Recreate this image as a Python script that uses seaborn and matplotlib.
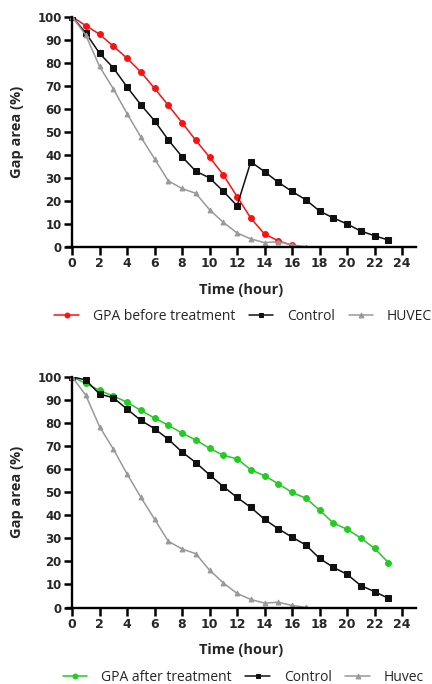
import matplotlib
matplotlib.use('Agg')
import matplotlib.pyplot as plt
import seaborn as sns
import numpy as np

# data (gap area % per hour)
hours_gpa_before = list(range(0, 17))
gpa_before = [100, 96.1, 92.4, 87.2, 82.0, 76.0, 68.9, 61.5, 54.0, 46.3, 39.0, 31.3,
              21.9, 12.5, 5.6, 2.7, 0.7]

hours_control = list(range(0, 24))
control_top = [100, 92.9, 84.1, 77.8, 69.5, 61.8, 54.8, 46.5, 39.2, 32.9, 30.0, 24.2,
               17.9, 37.0, 32.7, 28.1, 24.1, 20.5, 15.6, 12.6, 10.0, 6.9, 4.9, 3.0]

hours_huvec = list(range(0, 18))
huvec = [100, 92.0, 78.4, 68.7, 57.9, 47.8, 38.3, 28.7, 25.4, 23.3, 16.2, 10.7,
         6.1, 3.5, 1.9, 2.3, 0.9, 0.1]

hours_gpa_after = list(range(0, 24))
gpa_after = [100, 97.1, 94.1, 91.6, 89.0, 85.4, 82.1, 79.0, 75.6, 72.6, 69.0, 66.0,
             64.4, 59.7, 57.1, 53.6, 49.9, 47.4, 42.2, 36.6, 33.9, 30.1, 25.6, 19.5]

control_bottom = [100, 98.6, 92.5, 90.9, 86.0, 81.1, 77.5, 72.9, 67.4, 62.8, 57.5, 52.4,
                  47.7, 43.4, 38.2, 34.1, 30.5, 27.1, 21.3, 17.4, 14.4, 9.5, 6.9, 4.0]

x_ticks = list(range(0, 25, 2))
y_ticks = list(range(0, 101, 10))

sns.set_style('ticks')
plt.rcParams['font.family'] = ['DejaVu Sans']

fig = plt.figure(figsize=(4.32, 6.84), dpi=100)
ax_top = fig.add_axes([0.1556, 0.6389, 0.807, 0.3367])
ax_bot = fig.add_axes([0.1556, 0.1118, 0.807, 0.3374])

RED = '#ff1010'
GREEN = '#22cc22'
GREY = '#999999'
BLACK = '#111111'


def draw(ax, series):
    for x, y, color, marker, ms, label in series:
        sns.lineplot(x=x, y=y, ax=ax, color=color, marker=marker, markersize=ms,
                     markeredgecolor=color, linewidth=1.1, label=label)
    ax.set_xlim(-0.35, 25)
    ax.set_ylim(0, 100)
    ax.spines['left'].set_position(('data', 0))
    ax.spines['left'].set_bounds(0, 100)
    for s in ['left', 'bottom']:
        ax.spines[s].set_linewidth(1.7)
        ax.spines[s].set_color('black')
    sns.despine(ax=ax)
    ax.set_xticks(x_ticks)
    ax.set_yticks(y_ticks)
    ax.tick_params(axis='both', length=5.5, width=1.8, color='black', pad=2)
    for lab in ax.get_xticklabels():
        lab.set_fontweight('bold')
        lab.set_fontsize(9)
    for lab in ax.get_yticklabels():
        lab.set_fontweight('bold')
        lab.set_fontsize(8.5)
    ax.set_xlabel('Time (hour)', fontweight='bold', fontsize=10.5, labelpad=9,
                  family='Open Sans')
    ax.set_ylabel('Gap area (%)', fontweight='bold', fontsize=10.5,
                  family='Open Sans')
    ax.yaxis.set_label_coords(-0.125, 0.5)
    ax.legend_.remove()
    handles, labels = ax.get_legend_handles_labels()
    leg = ax.legend(handles, labels, ncol=3, frameon=False, loc='upper center',
                    bbox_to_anchor=(0.505, -0.245), prop={'family': 'Open Sans', 'size': 10},
                    handlelength=1.75, handletextpad=1.0, columnspacing=1.0,
                    borderaxespad=0)
    for line in leg.get_lines():
        line.set_markersize(3.5)


draw(ax_top, [
    (hours_gpa_before, gpa_before, RED, 'o', 4.2, 'GPA before treatment'),
    (hours_control, control_top, BLACK, 's', 4.2, 'Control'),
    (hours_huvec, huvec, GREY, '^', 3.5, 'HUVEC'),
])
draw(ax_bot, [
    (hours_gpa_after, gpa_after, GREEN, 'o', 4.2, 'GPA after treatment'),
    (hours_control, control_bottom, BLACK, 's', 4.2, 'Control'),
    (hours_huvec, huvec, GREY, '^', 3.5, 'Huvec'),
])

fig.savefig('out.png', dpi=100)
